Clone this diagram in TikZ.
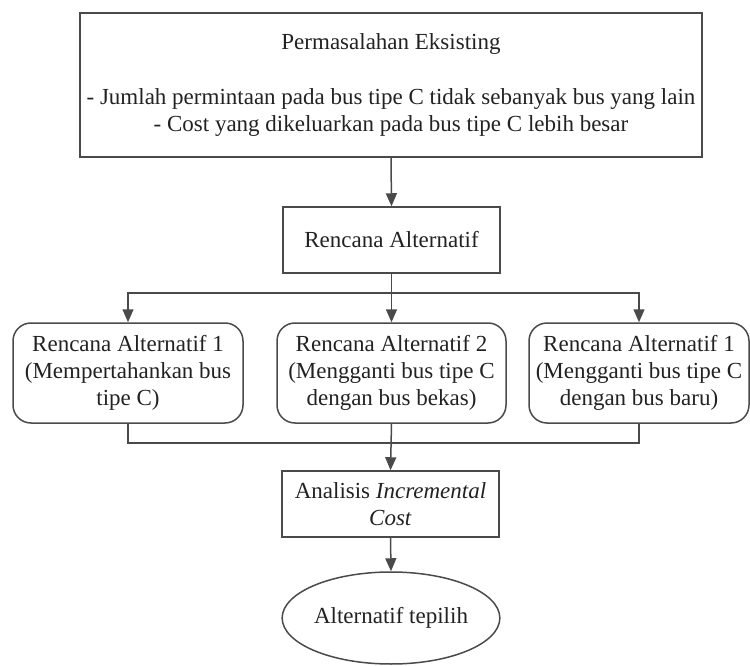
\documentclass[tikz,border=0pt]{standalone}
\usepackage{fontspec}
\setmainfont{Liberation Serif}
\usetikzlibrary{arrows.meta, calc, shapes.geometric}
\usetikzlibrary{positioning}
\definecolor{garis}{HTML}{4A4A4A}
\definecolor{teks}{HTML}{222222}

\begin{document}
\begin{tikzpicture}[x=1pt, y=-1pt, line width=1.5pt,
    kotak/.style={draw=garis, rectangle, align=center, inner sep=0pt, text=teks,
        font=\fontsize{23}{27}\selectfont},
    bulat/.style={kotak, rounded corners=18pt},
    panah/.style={draw=garis, -{Triangle[length=13pt, width=11pt]}}]
    \useasboundingbox (0,0) rectangle (750,666);
    \node[kotak, minimum width=622pt, minimum height=144pt] at (391,85) (masalah)
        {Permasalahan Eksisting\\[28pt]
         - Jumlah permintaan pada bus tipe C tidak sebanyak bus yang lain\\
         - Cost yang dikeluarkan pada bus tipe C lebih besar};
    \node[kotak, minimum width=217pt, minimum height=66pt] at (391.5,240) (rencana) {Rencana Alternatif};
    \node[bulat, minimum width=230pt, minimum height=100pt] at (128,373) (alt1)
        {Rencana Alternatif 1\\(Mempertahankan bus\\tipe C)};
    \node[bulat, minimum width=229pt, minimum height=100pt] at (391.5,373) (alt2)
        {Rencana Alternatif 2\\(Mengganti bus tipe C\\dengan bus bekas)};
    \node[bulat, minimum width=220pt, minimum height=100pt] at (639,373) (alt3)
        {Rencana Alternatif 1\\(Mengganti bus tipe C\\dengan bus baru)};
    \node[kotak, minimum width=217pt, minimum height=66pt] at (390.5,504) (analisis)
        {Analisis \textit{Incremental}\\\textit{Cost}};
    \node[kotak, ellipse, minimum width=204pt, minimum height=92pt] at (391,618) (pilih) {Alternatif tepilih};
    \coordinate (cabang) at (391.5,293);
    \coordinate (gabung) at (391.5,443);
    \draw[panah] (masalah.south) -- (rencana.north);
    \draw[draw=garis] (rencana.south) -- (cabang);
    \draw[panah] (cabang) -| (alt1.north);
    \draw[panah] (cabang) -- (alt2.north);
    \draw[panah] (cabang) -| (alt3.north);
    \draw[draw=garis] (alt1.south) |- (gabung);
    \draw[draw=garis] (alt3.south) |- (gabung);
    \draw[panah] (alt2.south) -- (analisis.north);
    \draw[panah] (analisis.south) -- (pilih.north);
\end{tikzpicture}
\end{document}
